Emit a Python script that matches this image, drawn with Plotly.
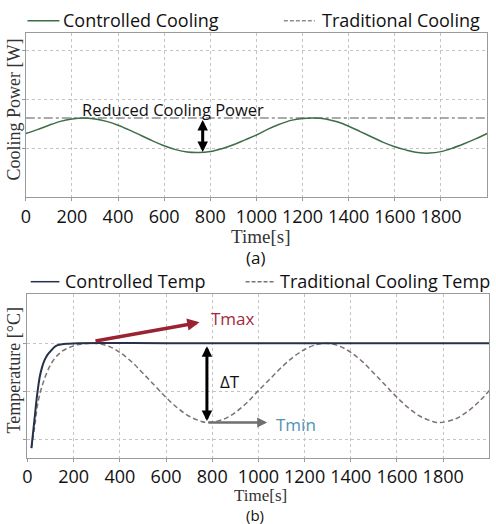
import plotly.graph_objects as go

# ---------------- data ----------------
# (a) cooling power, arbitrary units
t_cool = [0, 50, 100, 150, 200, 250, 300, 350, 400, 450, 500, 550, 600, 650, 700, 750,
          800, 850, 900, 950, 1000, 1050, 1100, 1150, 1200, 1250, 1300, 1350, 1400, 1450,
          1500, 1550, 1600, 1650, 1700, 1750, 1800, 1850, 1900, 1950, 2000]
controlled_cooling = [1.30, 1.38, 1.47, 1.55, 1.60, 1.62, 1.60, 1.55, 1.47, 1.37, 1.26, 1.15,
                      1.05, 0.97, 0.92, 0.91, 0.93, 0.99, 1.07, 1.17, 1.27, 1.39, 1.49, 1.57,
                      1.61, 1.62, 1.60, 1.54, 1.45, 1.34, 1.23, 1.12, 1.03, 0.96, 0.91, 0.90,
                      0.93, 1.00, 1.09, 1.19, 1.30]
t_trad_cool = [0, 2000]
traditional_cooling = [1.62, 1.62]

# (b) temperature, arbitrary units
t_ctrl_temp = [17, 24, 32, 39, 46, 53, 63, 74, 88, 103, 117, 131, 150, 174, 220, 600, 1000, 1400, 2000]
controlled_temp = [0.83, 1.14, 1.50, 1.82, 2.08, 2.30, 2.50, 2.65, 2.77, 2.85, 2.92, 2.96,
                   2.98, 2.99, 3.00, 3.00, 3.00, 3.00, 3.00]
t_trad_temp = [17, 31, 45, 67, 103, 146, 203, 245, 290, 350, 400, 450, 500, 550, 600, 650, 700,
               750, 780, 850, 900, 950, 1000, 1050, 1100, 1150, 1200, 1250, 1290, 1350, 1400,
               1450, 1500, 1550, 1600, 1650, 1700, 1750, 1780, 1850, 1900, 1950, 2000]
traditional_temp = [0.83, 1.27, 1.76, 2.17, 2.58, 2.82, 2.95, 2.99, 3.00, 2.94, 2.81, 2.62,
                    2.38, 2.13, 1.88, 1.66, 1.49, 1.39, 1.36, 1.43, 1.57, 1.77, 2.02, 2.26,
                    2.50, 2.71, 2.87, 2.97, 3.00, 2.94, 2.81, 2.62, 2.38, 2.13, 1.88, 1.66,
                    1.49, 1.39, 1.36, 1.43, 1.57, 1.77, 2.02]

x_ticks = [0, 200, 400, 600, 800, 1000, 1200, 1400, 1600, 1800]

# ---------------- figure ----------------
W, H = 496, 524
fig = go.Figure()

green = "#3d6e47"
gray = "#8e8e8e"
navy = "#27304a"
dashc = "#7e7175"

fig.add_trace(go.Scatter(x=t_trad_cool, y=traditional_cooling, mode="lines",
                         line=dict(color=gray, width=1.5, dash="dashdot"),
                         xaxis="x", yaxis="y", showlegend=False))
fig.add_trace(go.Scatter(x=t_cool, y=controlled_cooling, mode="lines",
                         line=dict(color=green, width=1.5, shape="spline"),
                         xaxis="x", yaxis="y", showlegend=False))
fig.add_trace(go.Scatter(x=t_trad_temp, y=traditional_temp, mode="lines",
                         line=dict(color=dashc, width=1.5, dash="5px,3px", shape="spline"),
                         xaxis="x2", yaxis="y2", showlegend=False))
fig.add_trace(go.Scatter(x=t_ctrl_temp, y=controlled_temp, mode="lines",
                         line=dict(color=navy, width=2, shape="spline"),
                         xaxis="x2", yaxis="y2", showlegend=False))

def px_x(p):
    return p / W

def px_y(p):
    return 1 - p / H

axis_common = dict(showline=True, mirror=True, linecolor="#9a9a9a", linewidth=1,
                   showgrid=True, gridcolor="#c4c4c4", griddash="dot", gridwidth=1,
                   zeroline=False, ticks="outside", ticklen=3, tickcolor="#9a9a9a")

tickfont = dict(family="Open Sans", size=18, color="#111")

fig.update_layout(
    width=W, height=H, margin=dict(l=0, r=0, t=0, b=0),
    paper_bgcolor="white", plot_bgcolor="white", showlegend=False,
    xaxis=dict(domain=[px_x(21), px_x(487)], range=[0, 2000], tickvals=x_ticks,
               tickfont=tickfont, anchor="y", **axis_common),
    yaxis=dict(domain=[px_y(197), px_y(33)], range=[0, 3.36], tickvals=[1, 2, 3],
               showticklabels=False, anchor="x", **axis_common),
    xaxis2=dict(domain=[px_x(22.7), px_x(489.3)], range=[0, 2000], tickvals=x_ticks,
                tickfont=tickfont, anchor="y2", **axis_common),
    yaxis2=dict(domain=[px_y(457.7), px_y(294.3)], range=[0.634, 4.01], tickvals=[1, 2, 3],
                showticklabels=False, anchor="x2", **axis_common),
)

sans = "Open Sans"
serif = "Liberation Serif"
ann = []

def txt(x, y, s, size=18, family=sans, color="#111", xanchor="left", angle=0):
    ann.append(dict(x=px_x(x), y=px_y(y), xref="paper", yref="paper", text=s,
                    showarrow=False, xanchor=xanchor, yanchor="middle", textangle=angle,
                    borderpad=0,
                    font=dict(family=family, size=size, color=color, weight="normal")))

# legends (a)
fig.add_shape(type="line", xref="paper", yref="paper", x0=px_x(22.7), x1=px_x(55),
              y0=px_y(20.7), y1=px_y(20.7), line=dict(color=green, width=1.5))
txt(58, 19.5, "Controlled Cooling")
fig.add_shape(type="line", xref="paper", yref="paper", x0=px_x(281.7), x1=px_x(313),
              y0=px_y(20.7), y1=px_y(20.7), line=dict(color=gray, width=1.5, dash="4px,2px"))
txt(319, 19.5, "Traditional Cooling")
# legends (b)
fig.add_shape(type="line", xref="paper", yref="paper", x0=px_x(26), x1=px_x(55),
              y0=px_y(281.7), y1=px_y(281.7), line=dict(color=navy, width=1.5))
txt(59.5, 281, "Controlled Temp")
fig.add_shape(type="line", xref="paper", yref="paper", x0=px_x(243), x1=px_x(273),
              y0=px_y(281.7), y1=px_y(281.7), line=dict(color=dashc, width=1.5, dash="4px,2px"))
txt(277, 281, "Traditional Cooling Temp")

# axis titles
txt(258, 236, "Time[s]", size=19, family=serif, color="#333", xanchor="center")
txt(253, 257, "(a)", size=17, xanchor="center")
txt(258, 495, "Time[s]", size=17, family=serif, color="#333", xanchor="center")
txt(253, 514.5, "(b)", size=15, xanchor="center")
txt(9.5, 109, "Cooling Power [W]", size=18, family=serif, color="#333", xanchor="center", angle=-90)
txt(9.5, 370, "Temperature [°C]", size=18, family=serif, color="#333", xanchor="center", angle=-90)

# annotations (a)
ann.append(dict(x=240, y=1.80, xref="x", yref="y", text="Reduced Cooling Power",
                showarrow=False, xanchor="left", yanchor="middle", borderpad=0,
                font=dict(family=sans, size=16.5, color="#111")))
ann.append(dict(x=767, y=0.92, ax=767, ay=1.61, xref="x", yref="y", axref="x", ayref="y",
                text="", showarrow=True, arrowside="end+start", arrowhead=2,
                arrowsize=0.7, arrowwidth=3, arrowcolor="#000"))

# annotations (b)
ann.append(dict(x=777, y=1.39, ax=777, ay=2.97, xref="x2", yref="y2", axref="x2", ayref="y2",
                text="", showarrow=True, arrowside="end+start", arrowhead=2,
                arrowsize=0.7, arrowwidth=3, arrowcolor="#000"))
ann.append(dict(x=875, y=2.2, xref="x2", yref="y2", text="ΔT", showarrow=False,
                xanchor="center", yanchor="middle", font=dict(family=sans, size=17, color="#111")))
ann.append(dict(x=745, y=3.43, ax=288, ay=3.04, xref="x2", yref="y2", axref="x2", ayref="y2",
                text="", showarrow=True, arrowhead=2, arrowsize=0.7, arrowwidth=3.5,
                arrowcolor="#9b2233"))
ann.append(dict(x=789, y=3.51, xref="x2", yref="y2", text="Tmax", showarrow=False,
                xanchor="left", yanchor="middle", borderpad=0,
                font=dict(family=sans, size=17, color="#a3293b")))
ann.append(dict(x=1038, y=1.36, ax=777, ay=1.36, xref="x2", yref="y2", axref="x2", ayref="y2",
                text="", showarrow=True, arrowhead=2, arrowsize=0.8, arrowwidth=2.5,
                arrowcolor="#6f6f6f"))
ann.append(dict(x=1073, y=1.33, xref="x2", yref="y2", text="Tmin", showarrow=False,
                xanchor="left", yanchor="middle", borderpad=0,
                font=dict(family=sans, size=17, color="#4f93b5")))

fig.update_layout(annotations=ann)
fig.write_html("out.html")
